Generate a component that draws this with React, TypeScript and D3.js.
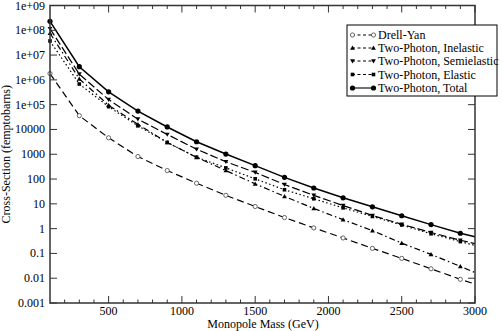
import React from 'react'
import * as d3 from 'd3'

// monopole mass (GeV); the last point closes the line at 3000 with no marker
const masses = [100, 300, 500, 700, 900, 1100, 1300, 1500, 1700, 1900, 2100, 2300, 2500, 2700, 2900, 3000]

const drellYan = [1.8e6, 3.6e4, 4.6e3, 810, 220, 68, 22, 7.8, 2.8, 1.07, 0.42, 0.16, 0.063, 0.024, 0.009, 0.0058]
const inelastic = [7.6e7, 1.1e6, 9.5e4, 1.6e4, 3.0e3, 750, 220, 64, 20, 6.5, 2.3, 0.83, 0.26, 0.091, 0.03, 0.017]
const semielastic = [1.16e8, 1.7e6, 1.6e5, 2.6e4, 6.3e3, 1.6e3, 500, 186, 60, 22, 8.5, 3.4, 1.5, 0.7, 0.34, 0.25]
const elastic = [3.7e7, 6.8e5, 8.3e4, 1.4e4, 3.0e3, 760, 282, 102, 37, 16, 6.9, 3.1, 1.4, 0.62, 0.30, 0.21]
const total = [2.3e8, 3.4e6, 3.3e5, 5.5e4, 1.26e4, 3.2e3, 1.02e3, 347, 117, 43.6, 17.5, 7.6, 3.3, 1.45, 0.65, 0.47]

const yTickLabels = ['0.001', '0.01', '0.1', '1', '10', '100', '1000', '10000', '1e+05', '1e+06', '1e+07', '1e+08', '1e+09']
const xMajor = [500, 1000, 1500, 2000, 2500, 3000]

const series = [
  { name: 'Drell-Yan', values: drellYan, dash: '7,4', marker: 'open' },
  { name: 'Two-Photon, Inelastic', values: inelastic, dash: '6,3,1.5,3', marker: 'up' },
  { name: 'Two-Photon, Semielastic', values: semielastic, dash: '8,3', marker: 'down' },
  { name: 'Two-Photon, Elastic', values: elastic, dash: '1.5,2.5', marker: 'square' },
  { name: 'Two-Photon, Total', values: total, dash: null, marker: 'dot' },
]

const W = 503, H = 331
const left = 50, right = 475, top = 5.5, bottom = 303
const font = 'Liberation Serif'

function Marker({ kind, x, y }: { kind: string; x: number; y: number }) {
  if (kind === 'open') return <circle cx={x} cy={y} r={2.1} fill="white" stroke="#555" strokeWidth={0.9} />
  if (kind === 'dot') return <circle cx={x} cy={y} r={2.6} fill="black" />
  if (kind === 'square') return <rect x={x - 1.8} y={y - 1.8} width={3.6} height={3.6} fill="black" />
  if (kind === 'up') return <path d={`M${x},${y - 2.4}L${x + 2.4},${y + 1.8}L${x - 2.4},${y + 1.8}Z`} fill="black" />
  return <path d={`M${x},${y + 2.4}L${x + 2.4},${y - 1.8}L${x - 2.4},${y - 1.8}Z`} fill="black" />
}

export default function App() {
  const x = d3.scaleLinear().domain([100, 3000]).range([left, right])
  const y = d3.scaleLog().domain([1e-3, 1e9]).range([bottom, top])
  const line = d3.line<number>().x((d, i) => x(masses[i])).y(d => y(d))

  const minor = d3.range(200, 3000, 100).filter(v => v % 500 !== 0)
  const decades = d3.range(-3, 10).map(p => Math.pow(10, p))

  const legX = 347, legY = 25, legRows = [35, 48, 61, 74.5, 88]

  return (
    <svg width={W} height={H} style={{ position: 'absolute', left: 0, top: 0 }} fontFamily={font}>
      <rect width={W} height={H} fill="white" />
      {series.map(s => (
        <g key={s.name}>
          <path d={line(s.values) || ''} fill="none" stroke="black" strokeWidth={s.marker === 'dot' ? 1.5 : 1.2}
            strokeDasharray={s.dash || undefined} />
          {s.values.slice(0, -1).map((v, i) => <Marker key={i} kind={s.marker} x={x(masses[i])} y={y(v)} />)}
        </g>
      ))}
      {/* frame */}
      <rect x={left} y={top} width={right - left} height={bottom - top} fill="none" stroke="#333" strokeWidth={1.5} />
      {xMajor.map(v => (
        <g key={v}>
          <line x1={x(v)} x2={x(v)} y1={bottom} y2={bottom - 7} stroke="#333" />
          <line x1={x(v)} x2={x(v)} y1={top} y2={top + 7} stroke="#333" />
          <text x={x(v)} y={315} textAnchor="middle" fontSize={12}>{v}</text>
        </g>
      ))}
      {minor.map(v => (
        <g key={v}>
          <line x1={x(v)} x2={x(v)} y1={bottom} y2={bottom - 3.5} stroke="#333" />
          <line x1={x(v)} x2={x(v)} y1={top} y2={top + 3.5} stroke="#333" />
        </g>
      ))}
      {decades.map((d, i) => (
        <g key={i}>
          <line x1={left} x2={left + 7} y1={y(d)} y2={y(d)} stroke="#333" />
          <line x1={right} x2={right - 7} y1={y(d)} y2={y(d)} stroke="#333" />
          <text x={45} y={y(d) + 4} textAnchor="end" fontSize={12}>{yTickLabels[i]}</text>
        </g>
      ))}
      <text x={263} y={328} textAnchor="middle" fontSize={12}>Monopole Mass (GeV)</text>
      <text transform={`translate(10,${(top + bottom) / 2}) rotate(-90)`} textAnchor="middle" fontSize={12}>
        Cross-Section (femptobarns)
      </text>
      {/* legend */}
      <rect x={legX} y={legY} width={150} height={71} fill="white" stroke="black" strokeWidth={1} />
      {series.map((s, i) => (
        <g key={s.name}>
          <line x1={352} x2={374} y1={legRows[i]} y2={legRows[i]} stroke="black" strokeWidth={1.1}
            strokeDasharray={s.dash ? '3,2.5' : undefined} />
          <Marker kind={s.marker} x={352.5} y={legRows[i]} />
          <Marker kind={s.marker} x={373.5} y={legRows[i]} />
          <text x={378} y={legRows[i] + 4} fontSize={12}>{s.name}</text>
        </g>
      ))}
    </svg>
  )
}
